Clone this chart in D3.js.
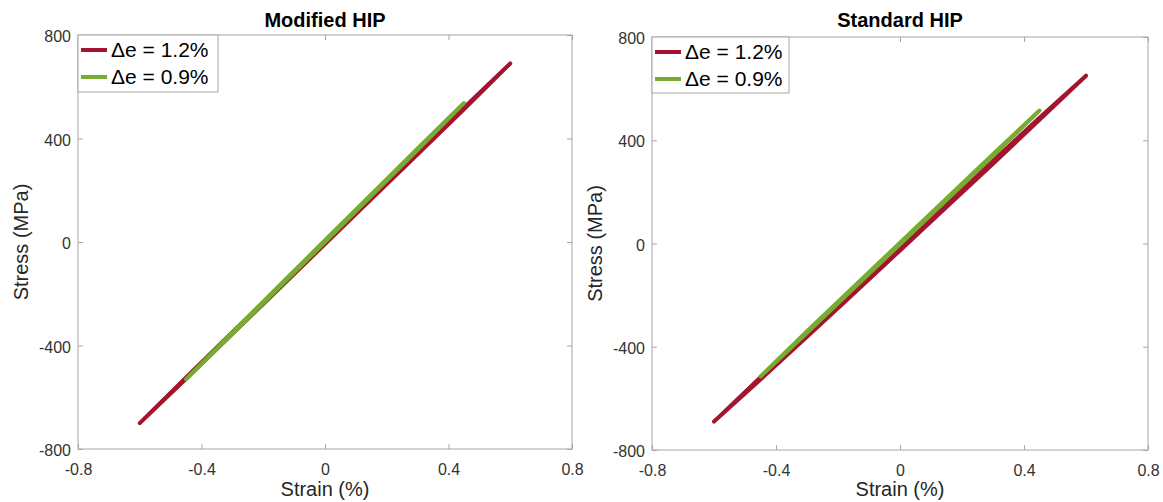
<!DOCTYPE html>
<html lang="en">
<head>
  <meta charset="UTF-8">
  <title>Stress-strain loops</title>
  <script src="https://d3js.org/d3.v7.min.js"></script>
  <style>
    html, body {
      margin: 0;
      padding: 0;
      background: #fff;
    }
    svg text {
      font-family: "Liberation Sans", Arial, sans-serif;
    }
    .tick text {
      font-size: 16px;
      fill: #333;
    }
    .tick line, .frame {
      stroke: #a6a6a6;
    }
    .loop {
      fill: none;
      stroke-width: 4;
      stroke-linecap: round;
      stroke-linejoin: round;
    }
  </style>
</head>
<body>
  <svg id="chart" width="1163" height="502"></svg>

  <script>
    // ticks shared by both panels
    const xTicks = [-0.8, -0.4, 0, 0.4, 0.8];
    const yTicks = [-800, -400, 0, 400, 800];

    const seriesNames = ['\u0394e = 1.2%', '\u0394e = 0.9%'];
    const seriesColors = ['#A2142F', '#77AC30'];

    // Modified HIP, loops (strain %, stress MPa)
    const modRedStrain = [-0.6, -0.45, -0.3, -0.15, 0, 0.15, 0.3, 0.45, 0.6, 0.45, 0.3, 0.15, 0, -0.15, -0.3, -0.45, -0.6];
    const modRedStress = [-700, -529, -355, -182, -8, 166, 339, 513, 690, 519, 345, 172, -2, -176, -349, -523, -700];
    const modGreenStrain = [-0.45, -0.3, -0.15, 0, 0.15, 0.3, 0.45, 0.3, 0.15, 0, -0.15, -0.3, -0.45];
    const modGreenStress = [-530, -355, -177, 0, 178, 356, 537, 362, 184, 7, -171, -349, -530];

    // Standard HIP
    const stdRedStrain = [-0.6, -0.45, -0.3, -0.15, 0, 0.15, 0.3, 0.45, 0.6, 0.45, 0.3, 0.15, 0, -0.15, -0.3, -0.45, -0.6];
    const stdRedStress = [-690, -527, -361, -195, -27, 141, 309, 479, 650, 487, 321, 155, -13, -181, -349, -518, -690];
    const stdGreenStrain = [-0.45, -0.3, -0.15, 0, 0.15, 0.3, 0.45, 0.3, 0.15, 0, -0.15, -0.3, -0.45];
    const stdGreenStress = [-515, -346, -175, -3, 168, 340, 515, 346, 175, 3, -168, -340, -515];

    const panels = [
      {
        title: 'Modified HIP',
        box: { x0: 78, x1: 572, y0: 35, y1: 449 },
        legend: { w: 140, h: 57 },
        series: [[modRedStrain, modRedStress], [modGreenStrain, modGreenStress]]
      },
      {
        title: 'Standard HIP',
        box: { x0: 652, x1: 1148, y0: 37, y1: 450 },
        legend: { w: 137, h: 56 },
        series: [[stdRedStrain, stdRedStress], [stdGreenStrain, stdGreenStress]]
      }
    ];

    const svg = d3.select('#chart');
    const fmt = d => String(d);

    panels.forEach(p => {
      const b = p.box;
      const x = d3.scaleLinear().domain([-0.8, 0.8]).range([b.x0, b.x1]);
      const y = d3.scaleLinear().domain([-800, 800]).range([b.y1, b.y0]);
      const g = svg.append('g');

      // inward ticks on all four sides, MATLAB style box
      g.append('g')
        .attr('transform', `translate(0,${b.y1})`)
        .call(d3.axisBottom(x).tickValues(xTicks).tickFormat(fmt).tickSizeInner(-5).tickSizeOuter(0).tickPadding(13));
      g.append('g')
        .attr('transform', `translate(0,${b.y0})`)
        .call(d3.axisTop(x).tickValues(xTicks).tickFormat('').tickSizeInner(-5).tickSizeOuter(0));
      g.append('g')
        .attr('transform', `translate(${b.x0},0)`)
        .call(d3.axisLeft(y).tickValues(yTicks).tickFormat(fmt).tickSizeInner(-5).tickSizeOuter(0).tickPadding(7));
      g.append('g')
        .attr('transform', `translate(${b.x1},0)`)
        .call(d3.axisRight(y).tickValues(yTicks).tickFormat('').tickSizeInner(-5).tickSizeOuter(0));
      g.selectAll('.domain').remove();
      g.selectAll('.tick text').attr('font-family', null).attr('font-size', null)
        .attr('transform', 'translate(0,1.5)');

      g.append('rect')
        .attr('class', 'frame')
        .attr('x', b.x0).attr('y', b.y0)
        .attr('width', b.x1 - b.x0).attr('height', b.y1 - b.y0)
        .attr('fill', 'none');

      const line = d3.line().x(d => x(d[0])).y(d => y(d[1]));
      p.series.forEach((s, i) => {
        const pts = s[0].map((v, k) => [v, s[1][k]]);
        g.append('path')
          .datum(pts)
          .attr('class', 'loop')
          .attr('stroke', seriesColors[i])
          .attr('d', line);
      });

      const cx = (b.x0 + b.x1) / 2;
      g.append('text')
        .attr('x', cx).attr('y', 27)
        .attr('text-anchor', 'middle')
        .attr('font-size', 20).attr('font-weight', 'bold')
        .attr('fill', '#000')
        .text(p.title);

      g.append('text')
        .attr('x', cx).attr('y', 496)
        .attr('text-anchor', 'middle')
        .attr('font-size', 20).attr('fill', '#262626')
        .text('Strain (%)');

      g.append('text')
        .attr('transform', `translate(${b.x0 - 50},${(b.y0 + b.y1) / 2}) rotate(-90)`)
        .attr('text-anchor', 'middle')
        .attr('font-size', 20).attr('fill', '#262626')
        .text('Stress (MPa)');

      // legend
      const lg = g.append('g').attr('transform', `translate(${b.x0},${b.y0})`);
      lg.append('rect')
        .attr('width', p.legend.w).attr('height', p.legend.h)
        .attr('fill', '#fff').attr('stroke', '#a6a6a6');
      seriesNames.forEach((name, i) => {
        const ly = 15 + i * 27;
        lg.append('line')
          .attr('x1', 3).attr('x2', 29).attr('y1', ly).attr('y2', ly)
          .attr('stroke', seriesColors[i]).attr('stroke-width', 4);
        lg.append('text')
          .attr('x', 33).attr('y', ly + 7)
          .attr('font-size', 21).attr('fill', '#000')
          .text(name);
      });
    });
  </script>
</body>
</html>
